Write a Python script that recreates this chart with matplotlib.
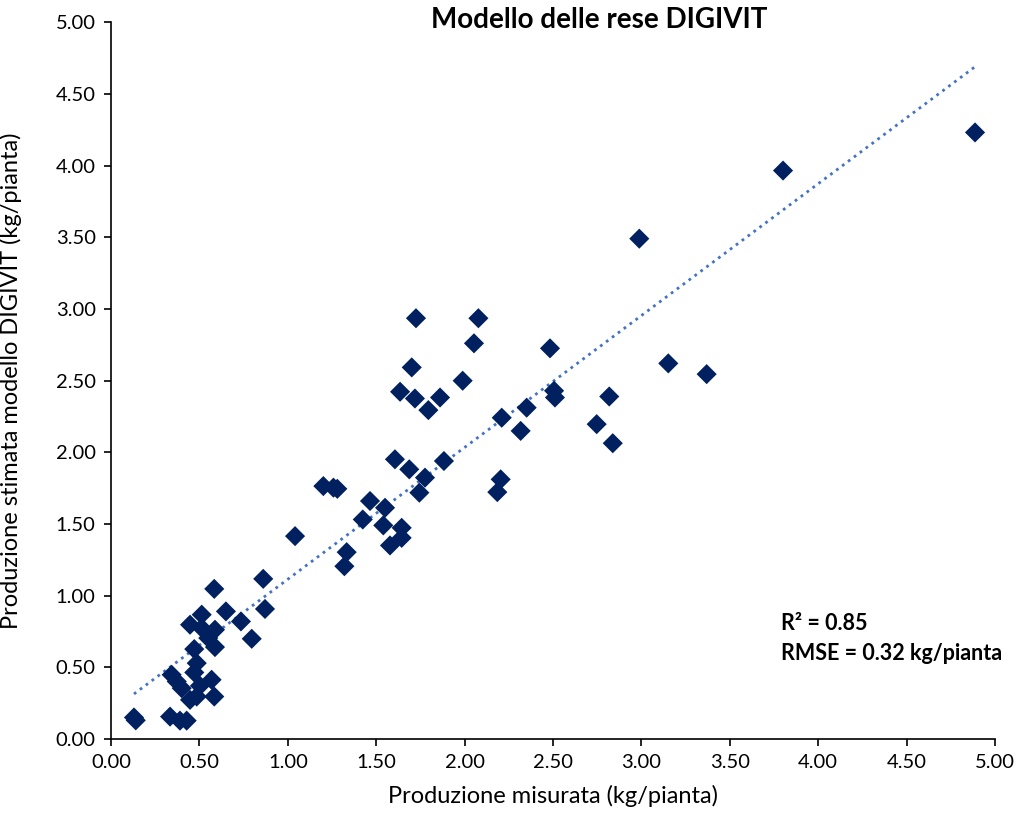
import matplotlib
matplotlib.use('Agg')
import matplotlib.pyplot as plt
import numpy as np

# measured yield (x) and DIGIVIT estimate (y), kg/plant
prod_misurata = [0.13, 0.14, 0.334, 0.39, 0.428, 0.447, 0.485, 0.584, 0.503, 0.569,
                 0.40, 0.372, 0.343, 0.471, 0.485, 0.471, 0.588, 0.550, 0.588, 0.513,
                 0.447, 0.513, 0.584, 0.650, 0.735, 0.796, 0.861, 0.871, 1.041, 1.333,
                 1.320, 1.201, 1.258, 1.28, 1.465, 1.424, 1.550, 1.540, 1.644, 1.644,
                 1.578, 1.606, 1.687, 1.776, 1.744, 1.883, 1.725, 2.078, 2.053, 2.483,
                 1.701, 1.989, 1.635, 1.719, 1.861, 1.795, 2.506, 2.511, 2.351, 2.210,
                 2.317, 2.818, 2.747, 2.838, 2.204, 2.185, 2.988, 3.152, 3.369, 3.801,
                 4.887]
prod_stimata = [0.15, 0.13, 0.156, 0.128, 0.128, 0.273, 0.296, 0.296, 0.371, 0.413,
                0.354, 0.401, 0.448, 0.464, 0.529, 0.627, 0.641, 0.704, 0.762, 0.774,
                0.797, 0.867, 1.047, 0.890, 0.820, 0.699, 1.117, 0.907, 1.415, 1.303,
                1.205, 1.764, 1.753, 1.745, 1.660, 1.531, 1.613, 1.490, 1.473, 1.403,
                1.350, 1.951, 1.881, 1.823, 1.718, 1.939, 2.935, 2.935, 2.760, 2.725,
                2.592, 2.499, 2.422, 2.375, 2.382, 2.294, 2.429, 2.382, 2.311, 2.241,
                2.149, 2.389, 2.196, 2.063, 1.811, 1.722, 3.490, 2.620, 2.545, 3.965,
                4.231]

ticks = np.arange(0, 5.01, 0.5)
font = 'Lato'

fig = plt.figure(figsize=(10.24, 8.22), dpi=100)
ax = fig.add_axes([0.1084, 0.101, 0.8633, 0.872])

ax.scatter(prod_misurata, prod_stimata, marker='D', s=105, color='#002060',
           edgecolors='none', zorder=3)

# linear trendline (like Excel)
m, q = np.polyfit(prod_misurata, prod_stimata, 1)
xl = np.array([min(prod_misurata), max(prod_misurata)])
ax.plot(xl, m * xl + q, ':', color='#4472C4', lw=2, zorder=2)

ax.set_xlim(0, 5)
ax.set_ylim(0, 5)
ax.set_xticks(ticks)
ax.set_yticks(ticks)
ax.set_xticklabels(['%.2f' % t for t in ticks], fontsize=14.5, family=font)
ax.set_yticklabels(['%.2f' % t for t in ticks], fontsize=14.5, family=font)
ax.tick_params(length=5, width=1.2, colors='black', pad=6)
for s in ['top', 'right']:
    ax.spines[s].set_visible(False)
for s in ['left', 'bottom']:
    ax.spines[s].set_linewidth(1.2)

ax.set_xlabel('Produzione misurata (kg/pianta)', fontsize=17, family=font, labelpad=10)
ax.set_ylabel('Produzione stimata modello DIGIVIT (kg/pianta)', fontsize=17, family=font, labelpad=24)
ax.set_title('Modello delle rese DIGIVIT', fontsize=20, fontweight='bold', family=font,
             pad=-4, y=1.0, x=0.552)

ax.text(3.79, 0.76, 'R² = 0.85', fontsize=15.5, fontweight='bold', family=font)
ax.text(3.79, 0.55, 'RMSE = 0.32 kg/pianta', fontsize=15.5, fontweight='bold', family=font)

fig.savefig('out.png', dpi=100)
